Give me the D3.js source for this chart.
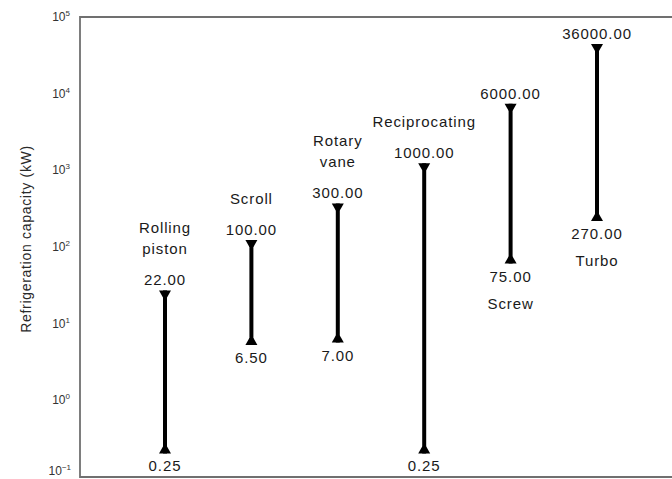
<!DOCTYPE html>
<html>
<head>
<meta charset="utf-8">
<title>Refrigeration capacity ranges</title>
<script src="https://d3js.org/d3.v7.min.js"></script>
<style>
  body { margin: 0; background: white; }
  svg { display: block; font-family: "Liberation Sans", Arial, sans-serif; }
</style>
</head>
<body>
<div id="chart"></div>
<script>
// compressor types and their capacity ranges (kW)
var categories = ["Rolling piston", "Scroll", "Rotary vane", "Reciprocating", "Screw", "Turbo"];
var nameLines = [["Rolling", "piston"], ["Scroll"], ["Rotary", "vane"], ["Reciprocating"], ["Screw"], ["Turbo"]];
var maxValues = [22, 100, 300, 1000, 6000, 36000];
var minValues = [0.25, 6.5, 7, 0.25, 75, 270];
var namePlacement = ["top", "top", "top", "top", "bottom", "bottom"];
var tickExponents = [-1, 0, 1, 2, 3, 4, 5];

var width = 672, height = 479;
var margin = {left: 80, top: 17, bottom: 2};

var svg = d3.select("#chart").append("svg")
  .attr("width", width)
  .attr("height", height);

var y = d3.scaleLog()
  .domain([0.1, 1e5])
  .range([height - margin.bottom, margin.top]);

var x = d3.scalePoint()
  .domain(categories)
  .range([165, 597]);

// frame: left, top and bottom lines
svg.append("path")
  .attr("d", "M" + width + "," + margin.top + "H" + margin.left + "V" + (height - margin.bottom) + "H" + width)
  .attr("fill", "none")
  .attr("stroke", "#707070")
  .attr("stroke-width", 1.8);

// tick labels as 10^n
var ticks = svg.append("g").selectAll("text")
  .data(tickExponents)
  .enter().append("text")
  .attr("x", function(d) { return d < 0 ? 71 : 70; })
  .attr("y", function(d) { return Math.min(y(Math.pow(10, d)) + 4, 475); })
  .attr("text-anchor", "end")
  .attr("font-size", 12)
  .attr("fill", "#333");
ticks.append("tspan").text("10");
ticks.append("tspan")
  .attr("dy", -5)
  .attr("font-size", 8)
  .text(function(d) { return d < 0 ? "\u2212" + Math.abs(d) : d; });

// axis title
svg.append("text")
  .attr("transform", "translate(31,239) rotate(-90)")
  .attr("text-anchor", "middle")
  .attr("font-size", 14)
  .attr("letter-spacing", 0.7)
  .attr("fill", "#2a2a2a")
  .text("Refrigeration capacity (kW)");

var rows = categories.map(function(c, i) {
  return {name: c, lines: nameLines[i], hi: maxValues[i], lo: minValues[i], place: namePlacement[i]};
});

var cap = 7;

var g = svg.append("g").selectAll("g")
  .data(rows)
  .enter().append("g")
  .attr("transform", function(d) { return "translate(" + x(d.name) + ",0)"; });

// range bar
g.append("line")
  .attr("y1", function(d) { return y(d.hi) - cap; })
  .attr("y2", function(d) { return y(d.lo) + cap; })
  .attr("stroke", "#000")
  .attr("stroke-width", 4);

// end caps, tip at the value, base outward
g.append("path")
  .attr("d", function(d) { var t = y(d.hi); return "M-6," + (t - cap) + "H6L2," + t + "H-2Z"; })
  .attr("fill", "#000");
g.append("path")
  .attr("d", function(d) { var b = y(d.lo); return "M-6," + (b + cap) + "H6L2," + b + "H-2Z"; })
  .attr("fill", "#000");

var fmt = d3.format(".2f");
var fs = 15;

function label(sel) {
  return sel.attr("text-anchor", "middle")
    .attr("font-size", fs)
    .attr("letter-spacing", 0.9)
    .attr("fill", "#1a1a1a");
}

// value labels
label(g.append("text"))
  .attr("y", function(d) { return y(d.hi) - cap - 5; })
  .text(function(d) { return fmt(d.hi); });
label(g.append("text"))
  .attr("y", function(d) { return y(d.lo) + cap + 18; })
  .text(function(d) { return fmt(d.lo); });

// category names
g.each(function(d) {
  var sel = d3.select(this);
  var n = d.lines.length;
  d.lines.forEach(function(line, k) {
    var yy;
    if (d.place === "top") yy = y(d.hi) - cap - 5 - 31 - (n - 1 - k) * 21;
    else yy = y(d.lo) + cap + 18 + 27 + k * 21;
    label(sel.append("text"))
      .attr("y", yy)
      .text(line);
  });
});
</script>
</body>
</html>
